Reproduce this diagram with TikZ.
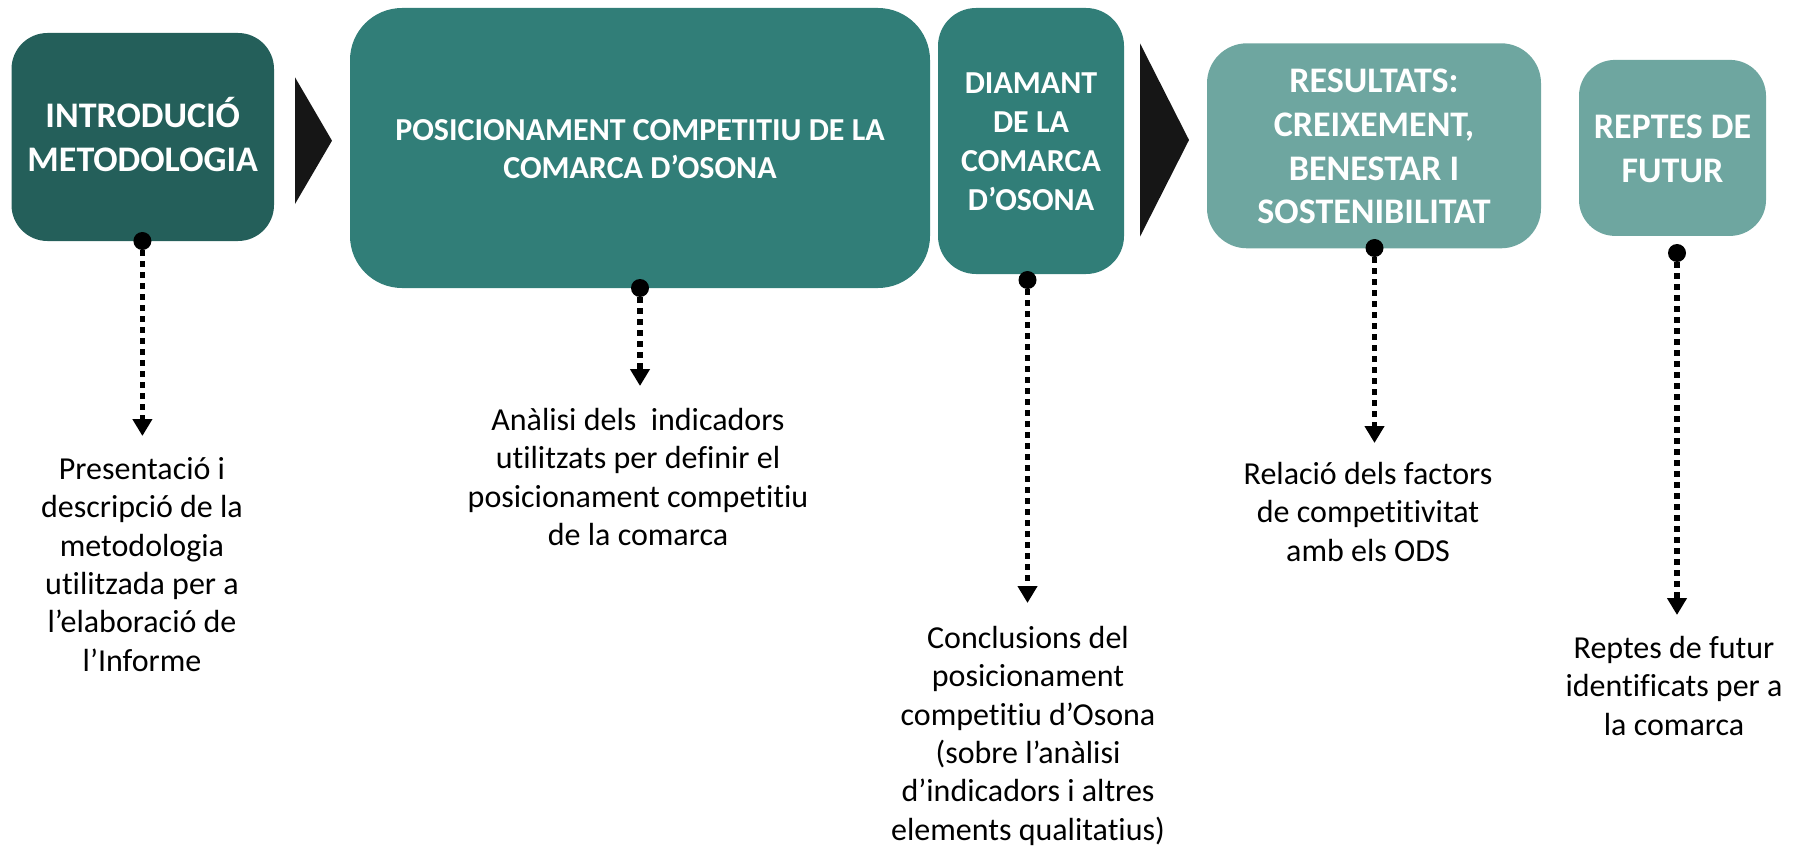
\documentclass[tikz,border=0pt]{standalone}
\usepackage{fontspec}
\setmainfont[Ligatures=NoCommon]{Carlito}
\usetikzlibrary{arrows.meta}
\definecolor{cdark}{HTML}{245F5A}
\definecolor{cmid}{HTML}{317E78}
\definecolor{clight}{HTML}{6EA6A0}
\definecolor{cblk}{HTML}{161616}
\newcommand{\hstr}{\rule{0pt}{0.95em}}
\newcommand{\dstr}{\rule[-0.26em]{0pt}{0.26em}}
\newcommand{\fst}[1]{\rule{0pt}{#1pt}}
\begin{document}
\begin{tikzpicture}[x=1pt,y=-1pt,
  box/.style={rounded corners=#1, inner sep=0pt, text=white, align=center},
  hdrbig/.style={font=\bfseries\fontsize{36}{43.6}\selectfont},
  hdr/.style={font=\bfseries\fontsize{32}{38}\selectfont},
  hdrs/.style={font=\bfseries\fontsize{32}{39}\selectfont},
  dotn/.style={circle, fill=black, minimum size=18pt, inner sep=0pt},
  conn/.style={line width=5.5pt, dash pattern=on 6pt off 5pt, -{Triangle[length=17pt,width=19pt]}},
  desc/.style={align=center, font=\fontsize{32}{38.4}\selectfont, anchor=north, inner sep=0pt},
  tri/.style={fill=cblk}
]
\useasboundingbox (0,0) rectangle (1802,848);

% boxes
\node[box=36pt, hdrbig, fill=cdark, minimum width=262.5pt, minimum height=208pt] (b1) at (142.75,137) {\hstr INTRODUCIÓ\\METODOLOGIA\dstr};
\node[box=52pt, hdr, fill=cmid, minimum width=580pt, minimum height=280pt] (b2) at (640,148) {\hstr POSICIONAMENT COMPETITIU DE LA\\COMARCA D’OSONA\dstr};
\node[box=38pt, hdrs, fill=cmid, minimum width=186pt, minimum height=266pt] (b3) at (1031,141) {\hstr DIAMANT\\DE LA\\COMARCA\\D’OSONA\dstr};
\node[box=40pt, hdrbig, fill=clight, minimum width=334pt, minimum height=205pt] (b4) at (1374,145.8) {\hstr RESULTATS:\\CREIXEMENT,\\BENESTAR I\\SOSTENIBILITAT\dstr};
\node[box=36pt, hdrbig, fill=clight, minimum width=187pt, minimum height=176pt] (b5) at (1672.5,147.9) {\hstr REPTES DE\\FUTUR\dstr};

% black chevrons
\fill[tri] (295,77.3) -- (332,140.7) -- (295,204) -- cycle;
\fill[tri] (1140,43.3) -- (1189,140) -- (1140,236.7) -- cycle;

% dots
\node[dotn] (d1) at (142.4,241) {};
\node[dotn] (d2) at (640,288) {};
\node[dotn] (d3) at (1027.5,280) {};
\node[dotn] (d4) at (1374.5,248) {};
\node[dotn] (d5) at (1677,253) {};

% descriptions
\node[desc] (t1) at (142,436) {\fst{43}Presentació i\\descripció de la\\metodologia\\utilitzada per a\\l’elaboració de\\l’Informe};
\node[desc] (t2) at (638,386) {\fst{44}Anàlisi dels\ \ indicadors\\utilitzats per definir el\\posicionament competitiu\\de la comarca};
\node[desc] (t3) at (1028,603) {\fst{45}Conclusions del\\posicionament\\competitiu d’Osona\\(sobre l’anàlisi\\d’indicadors i altres\\elements qualitatius)};
\node[desc] (t4) at (1368,443) {\fst{41}Relació dels factors\\de competitivitat\\amb els ODS};
\node[desc] (t5) at (1674,615) {\fst{43}Reptes de futur\\identificats per a\\la comarca};

% connectors
\draw[conn] (d1) -- (d1 |- t1.north);
\draw[conn] (d2) -- (d2 |- t2.north);
\draw[conn] (d3) -- (d3 |- t3.north);
\draw[conn] (d4) -- (d4 |- t4.north);
\draw[conn] (d5) -- (d5 |- t5.north);
\end{tikzpicture}
\end{document}
